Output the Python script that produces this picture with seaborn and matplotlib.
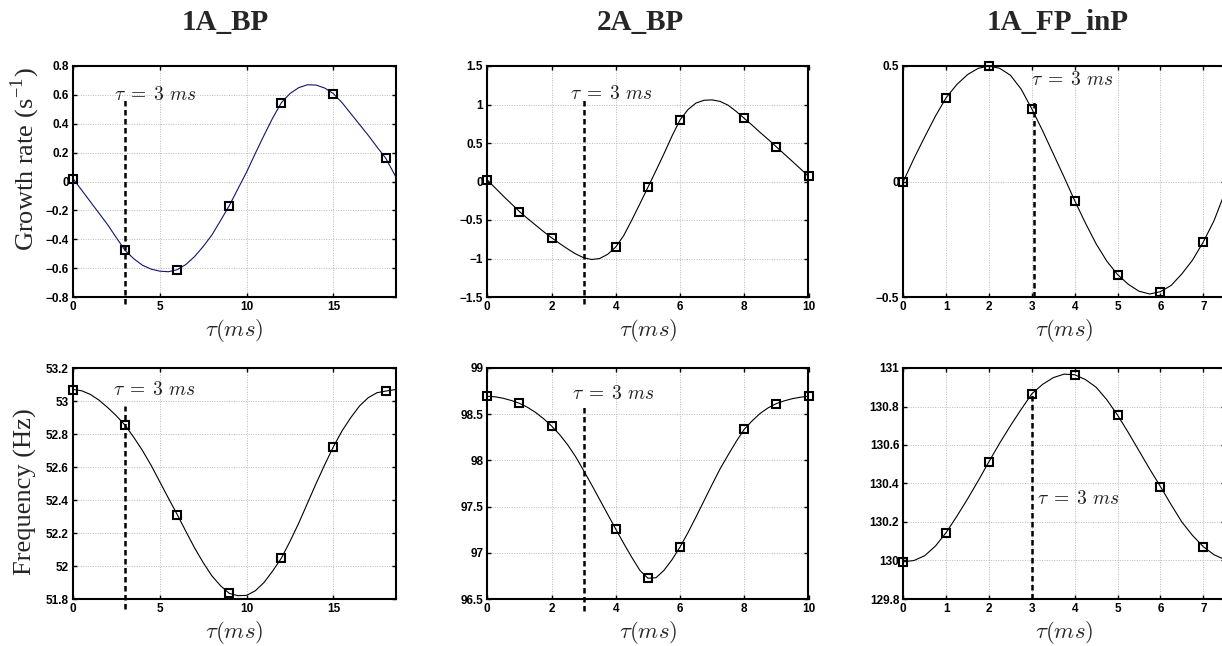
import seaborn as sns
import matplotlib.pyplot as plt
from matplotlib.ticker import FuncFormatter, MultipleLocator

sns.set_theme(style="ticks")
plt.rcParams["font.family"] = ["Liberation Sans", "DejaVu Sans"]
plt.rcParams["font.weight"] = "bold"
plt.rcParams["mathtext.fontset"] = "cm"

# ---- data ----
titles = ["1A_BP", "2A_BP", "1A_FP_inP"]

# 1A_BP : computed points
bp1_tau = [0, 3, 6, 9, 12, 15, 18]
bp1_growth = [0.02, -0.477, -0.611, -0.167, 0.546, 0.608, 0.163]
bp1_freq = [53.065, 52.853, 52.312, 51.834, 52.048, 52.724, 53.059]
# 1A_BP : fitted curves (read every 0.5 ms)
bp1_fit_tau = [0, 0.5, 1, 1.5, 2, 2.5, 3, 3.5, 4, 4.5, 5, 5.5, 6, 6.5, 7, 7.5,
               8, 8.5, 9, 9.5, 10, 10.5, 11, 11.5, 12, 12.5, 13, 13.5, 14,
               14.5, 15, 15.5, 16, 16.5, 17, 17.5, 18, 18.6]
bp1_fit_g = [0.02, -0.06, -0.14, -0.22, -0.30, -0.39, -0.477, -0.535, -0.58,
             -0.607, -0.621, -0.625, -0.611, -0.575, -0.52, -0.45, -0.37,
             -0.27, -0.167, -0.05, 0.066, 0.195, 0.32, 0.44, 0.546, 0.61, 0.65,
             0.67, 0.668, 0.647, 0.608, 0.545, 0.47, 0.395, 0.32, 0.24, 0.163,
             0.03]
bp1_fit_f = [53.07, 53.062, 53.04, 53.005, 52.96, 52.91, 52.853, 52.78, 52.70,
             52.61, 52.51, 52.41, 52.312, 52.21, 52.11, 52.02, 51.94, 51.88,
             51.834, 51.82, 51.822, 51.85, 51.90, 51.97, 52.048, 52.15, 52.26,
             52.38, 52.50, 52.615, 52.724, 52.82, 52.90, 52.97, 53.02, 53.05,
             53.06, 53.07]

# 2A_BP : computed points
bp2_tau = [0, 1, 2, 4, 5, 6, 8, 9, 10]
bp2_growth = [0.02, -0.39, -0.73, -0.85, -0.076, 0.80, 0.82, 0.45, 0.067]
bp2_freq = [98.694, 98.618, 98.373, 97.256, 96.727, 97.062, 98.337, 98.615,
            98.694]
# 2A_BP : fitted curves (read every 0.25 ms)
bp2_fit_tau = [0, 0.25, 0.5, 0.75, 1, 1.25, 1.5, 1.75, 2, 2.25, 2.5, 2.75, 3,
               3.25, 3.5, 3.75, 4, 4.25, 4.5, 4.75, 5, 5.25, 5.5, 5.75, 6,
               6.25, 6.5, 6.75, 7, 7.25, 7.5, 7.75, 8, 8.25, 8.5, 8.75, 9,
               9.25, 9.5, 9.75, 10]
bp2_fit_g = [0.02, -0.085, -0.19, -0.29, -0.39, -0.48, -0.565, -0.65, -0.73,
             -0.805, -0.875, -0.94, -0.99, -1.013, -1.0, -0.945, -0.85, -0.70,
             -0.50, -0.29, -0.076, 0.14, 0.36, 0.59, 0.80, 0.935, 1.02, 1.055,
             1.06, 1.04, 0.99, 0.91, 0.82, 0.73, 0.635, 0.545, 0.45, 0.355,
             0.26, 0.165, 0.067]
bp2_fit_f = [98.694, 98.688, 98.672, 98.648, 98.618, 98.575, 98.52, 98.452,
             98.373, 98.28, 98.17, 98.04, 97.89, 97.735, 97.575, 97.415,
             97.256, 97.10, 96.95, 96.81, 96.725, 96.73, 96.81, 96.925, 97.062,
             97.22, 97.39, 97.565, 97.74, 97.91, 98.06, 98.205, 98.337, 98.43,
             98.51, 98.57, 98.615, 98.645, 98.668, 98.684, 98.694]

# 1A_FP_inP : computed points
fp_tau = [0, 1, 2, 3, 4, 5, 6, 7]
fp_growth = [0.0, 0.363, 0.5, 0.314, -0.083, -0.403, -0.477, -0.262]
fp_freq = [129.993, 130.145, 130.514, 130.866, 130.965, 130.755, 130.384,
           130.072]
# 1A_FP_inP : fitted curves (read every 0.25 ms)
fp_fit_tau = [0, 0.25, 0.5, 0.75, 1, 1.25, 1.5, 1.75, 2, 2.25, 2.5, 2.75, 3,
              3.25, 3.5, 3.75, 4, 4.25, 4.5, 4.75, 5, 5.25, 5.5, 5.75, 6, 6.25,
              6.5, 6.75, 7, 7.25, 7.5]
fp_fit_g = [0.0, 0.1, 0.193, 0.283, 0.363, 0.42, 0.463, 0.49, 0.5, 0.49, 0.46,
            0.40, 0.314, 0.22, 0.12, 0.02, -0.083, -0.18, -0.27, -0.345,
            -0.403, -0.445, -0.475, -0.487, -0.477, -0.45, -0.40, -0.34,
            -0.262, -0.17, -0.05]
fp_fit_f = [129.993, 130.0, 130.025, 130.075, 130.145, 130.23, 130.32, 130.415,
            130.514, 130.61, 130.70, 130.785, 130.866, 130.915, 130.95,
            130.968, 130.965, 130.94, 130.9, 130.835, 130.755, 130.665, 130.57,
            130.475, 130.384, 130.29, 130.2, 130.13, 130.072, 130.03, 130.005]

tau_ref = 3
tau_text = r"$\tau\;=\;3\ ms$"

# ---- panel settings: (points, fit, xlim, xstep, ylim, ystep, line color,
#      dashed x, dashed y range, text position)
panels = [
    [(bp1_tau, bp1_growth), (bp1_fit_tau, bp1_fit_g), (0, 18.6), 5,
     (-0.8, 0.8), 0.2, "#14146e", tau_ref, (-0.85, 0.567), (2.34, 0.60)],
    [(bp2_tau, bp2_growth), (bp2_fit_tau, bp2_fit_g), (0, 10), 2,
     (-1.5, 1.5), 0.5, "black", tau_ref, (-1.59, 1.063), (2.56, 1.14)],
    [(fp_tau, fp_growth), (fp_fit_tau, fp_fit_g), (0, 7.5), 1,
     (-0.5, 0.5), 0.5, "black", tau_ref + 0.05, (-0.5, 0.35), (2.98, 0.44)],
    [(bp1_tau, bp1_freq), (bp1_fit_tau, bp1_fit_f), (0, 18.6), 5,
     (51.8, 53.2), 0.2, "black", tau_ref, (51.74, 52.968), (2.31, 53.065)],
    [(bp2_tau, bp2_freq), (bp2_fit_tau, bp2_fit_f), (0, 10), 2,
     (96.5, 99), 0.5, "black", tau_ref, (96.37, 98.586), (2.625, 98.72)],
    [(fp_tau, fp_freq), (fp_fit_tau, fp_fit_f), (0, 7.5), 1,
     (129.8, 131), 0.2, "black", tau_ref, (129.8, 130.866), (3.11, 130.32)],
]

W, H = 1222, 646
fig = plt.figure(figsize=(W / 100, H / 100), dpi=100)
cols = [(73, 396), (487.3, 808.5), (903.3, 1224.7)]
rows = [(66, 297), (368, 599)]

fmt = FuncFormatter(lambda v, p: ("%g" % round(v, 6)).replace("-", "\u2212"))

for i, p in enumerate(panels):
    (pts, fit, xlim, xstep, ylim, ystep, lc, xd, yd, tpos) = p
    r, c = divmod(i, 3)
    x0, x1 = cols[c]
    y0, y1 = rows[r]
    ax = fig.add_axes([x0 / W, 1 - y1 / H, (x1 - x0) / W, (y1 - y0) / H])

    sns.lineplot(x=fit[0], y=fit[1], ax=ax, color=lc, linewidth=0.8,
                 solid_joinstyle="round")
    sns.lineplot(x=pts[0], y=pts[1], ax=ax, marker="s", linestyle="",
                 markersize=6, markerfacecolor="none", markeredgecolor="black",
                 markeredgewidth=1.5, clip_on=False, zorder=4)
    ax.plot([xd, xd], list(yd), color="black", linewidth=1.8,
            dashes=(2.2, 1.4), clip_on=False, zorder=3)
    ax.text(tpos[0], tpos[1], tau_text, fontsize=14, color="#222222",
            ha="left", va="center")

    ax.set_xlim(*xlim)
    ax.set_ylim(*ylim)
    ax.xaxis.set_major_locator(MultipleLocator(xstep))
    ax.yaxis.set_major_locator(MultipleLocator(ystep))
    ax.xaxis.set_major_formatter(fmt)
    ax.yaxis.set_major_formatter(fmt)
    ax.grid(True, color="#b8b8b8", linestyle=(0, (1, 1.5)), linewidth=0.7)
    ax.tick_params(direction="in", length=3, width=1, top=True, right=True,
                   labelsize=8.5, pad=3, colors="black")
    for s in ax.spines.values():
        s.set_linewidth(1.5)
        s.set_color("black")
    ax.set_xlabel(r"$\tau(ms)$", fontsize=16.5)
    ax.xaxis.set_label_coords(0.5, -0.085)
    ax.set_ylabel("")

# column titles
title_x = [225, 640, 1058]
for t, tx in zip(titles, title_x):
    fig.text(tx / W, 1 - 22 / H, t, ha="center", va="center",
             family="Liberation Serif", fontweight="bold", fontsize=21)

# row labels
fig.text(25 / W, 1 - 158.5 / H, "Growth rate (s$^{\\mathregular{-1}}$)",
         rotation=90, ha="center", va="center", family="Liberation Serif",
         fontweight="normal", fontsize=19)
fig.text(25 / W, 1 - 492 / H, "Frequency (Hz)", rotation=90, ha="center",
         va="center", family="Liberation Serif", fontweight="normal",
         fontsize=19)

fig.savefig("out.png", dpi=100)
